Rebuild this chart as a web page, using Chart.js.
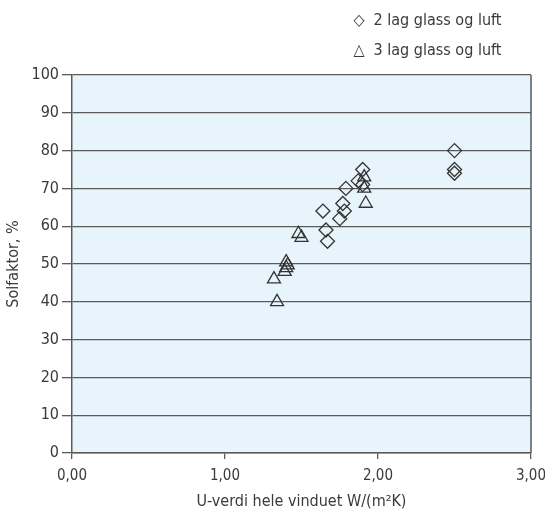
<!DOCTYPE html>
<html>
<head>
<meta charset="utf-8">
<script src="https://cdn.jsdelivr.net/npm/chart.js@4/dist/chart.umd.min.js"></script>
<style>
  html, body { margin: 0; padding: 0; background: #ffffff; }
  #wrap { position: relative; width: 545px; height: 511px; }
  #legend { position: absolute; left: 349px; top: 5px; font-family: 'DejaVu Sans Condensed', 'DejaVu Sans', sans-serif; font-size: 16px; color: #3a3a3a; line-height: 30px; }
  #legend .sym { display: inline-block; width: 20px; text-align: center; font-size: 16px; }
</style>
</head>
<body>
<div id="wrap">
  <canvas id="c" width="545" height="511"></canvas>
  <div id="legend"></div>
</div>
<script>
const seriesNames = ['2 lag glass og luft', '3 lag glass og luft'];
const legendSymbols = ['\u25C7', '\u25B3'];

const twoLayerU = [2.50, 2.50, 2.50, 1.90, 1.87, 1.90, 1.79, 1.77, 1.78, 1.64, 1.75, 1.66, 1.67];
const twoLayerG = [80, 75, 74, 75, 72, 71, 70, 66, 64, 64, 62, 59, 56];

const threeLayerU = [1.32, 1.34, 1.40, 1.41, 1.40, 1.39, 1.48, 1.50, 1.91, 1.91, 1.92];
const threeLayerG = [46, 40, 50.5, 49.7, 49, 48, 58, 57, 73, 70, 66];

const xTickLabels = ['0,00', '1,00', '2,00', '3,00'];
const xTitle = 'U-verdi hele vinduet W/(m\u00B2K)';
const yTitle = 'Solfaktor, %';

const FONT = "'DejaVu Sans Condensed', 'DejaVu Sans', sans-serif";
const INK = '#3a3a3a';
const GRID = '#5a5a5a';

document.getElementById('legend').innerHTML = seriesNames.map((n, i) =>
  '<div><span class="sym">' + legendSymbols[i] + '</span> ' + n + '</div>').join('');

const toPoints = (xs, ys) => xs.map((x, i) => ({ x: x, y: ys[i] }));

const areaPlugin = {
  id: 'areaPlugin',
  beforeDraw(chart) {
    const { ctx, chartArea: a } = chart;
    ctx.save();
    ctx.fillStyle = '#e8f4fb';
    ctx.fillRect(a.left, a.top, a.right - a.left, a.bottom - a.top);
    ctx.restore();
  },
  beforeDatasetsDraw(chart) {
    const { ctx, chartArea: a } = chart;
    ctx.save();
    ctx.strokeStyle = GRID;
    ctx.lineWidth = 1.5;
    ctx.beginPath();
    ctx.moveTo(a.right, a.top);
    ctx.lineTo(a.right, a.bottom);
    ctx.stroke();
    ctx.restore();
  }
};

new Chart(document.getElementById('c'), {
  type: 'scatter',
  data: {
    datasets: [
      {
        label: seriesNames[0],
        data: toPoints(twoLayerU, twoLayerG),
        pointStyle: 'rectRot',
        pointRadius: 7,
        pointHoverRadius: 7,
        borderColor: '#333333',
        backgroundColor: 'rgba(0,0,0,0)',
        pointBorderWidth: 1.3
      },
      {
        label: seriesNames[1],
        data: toPoints(threeLayerU, threeLayerG),
        pointStyle: 'triangle',
        pointRadius: 7.5,
        pointHoverRadius: 7.5,
        borderColor: '#333333',
        backgroundColor: 'rgba(0,0,0,0)',
        pointBorderWidth: 1.3
      }
    ]
  },
  options: {
    responsive: false,
    animation: false,
    layout: { padding: { left: 0, top: 75, right: 14, bottom: 0 } },
    plugins: { legend: { display: false }, tooltip: { enabled: false } },
    scales: {
      x: {
        type: 'linear',
        min: 0, max: 3,
        afterFit(s) { s.height = 58; s.paddingLeft = 0; s.paddingRight = 0; },
        ticks: {
          stepSize: 1,
          color: INK,
          font: { family: FONT, size: 15 },
          padding: 8,
          maxRotation: 0,
          callback: (v) => xTickLabels[Math.round(v)]
        },
        grid: { drawOnChartArea: false, drawTicks: true, tickLength: 6, color: GRID, lineWidth: 1.3 },
        border: { display: true, color: GRID, width: 1.5 },
        title: { display: true, text: xTitle, color: INK, font: { family: FONT, size: 16 }, padding: { top: 0, bottom: 0 } }
      },
      y: {
        type: 'linear',
        min: 0, max: 100,
        afterFit(s) { s.width = 72; s.paddingTop = 0; s.paddingBottom = 0; },
        ticks: {
          stepSize: 10,
          color: INK,
          font: { family: FONT, size: 16 },
          padding: 3
        },
        grid: { color: GRID, lineWidth: 1.3, tickLength: 10 },
        border: { display: true, color: GRID, width: 1.5 },
        title: { display: true, text: yTitle, color: INK, font: { family: FONT, size: 16 }, padding: { top: 4, bottom: 0 } }
      }
    }
  },
  plugins: [areaPlugin]
});
</script>
</body>
</html>
